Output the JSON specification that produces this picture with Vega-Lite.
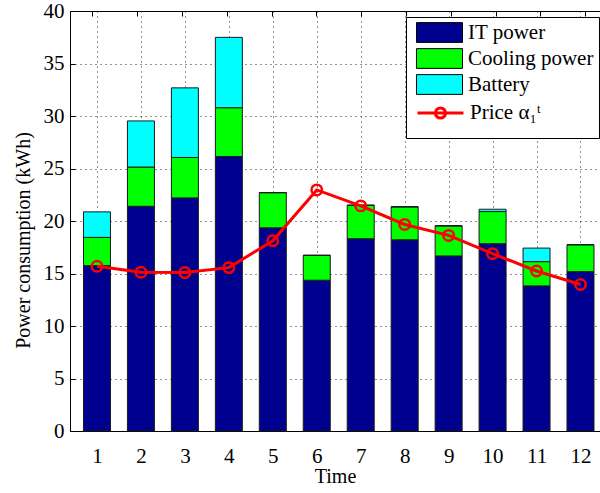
{
  "$schema": "https://vega.github.io/schema/vega-lite/v6.json",
  "width": 530,
  "height": 420,
  "autosize": {"type": "none"},
  "padding": {"left": 70, "top": 11, "right": 0, "bottom": 62},
  "background": "white",
  "config": {
    "view": {"stroke": null},
    "font": "Liberation Serif",
    "axis": {
      "labelFont": "Liberation Serif",
      "titleFont": "Liberation Serif",
      "labelFontSize": 21,
      "titleFontSize": 20,
      "titleFontWeight": "normal",
      "labelColor": "#000000",
      "titleColor": "#000000",
      "domainColor": "#000000",
      "domainWidth": 1,
      "tickColor": "#000000",
      "tickSize": -5,
      "tickWidth": 1,
      "gridColor": "#000000",
      "gridDash": [1, 4],
      "gridWidth": 1,
      "gridOpacity": 0.85
    },
    "legend": {
      "labelFont": "Liberation Serif",
      "labelFontSize": 21,
      "labelColor": "#000000",
      "labelOffset": 5,
      "symbolSize": 2116,
      "clipHeight": 21,
      "symbolOffset": 5,
      "symbolOpacity": 1,
      "rowPadding": 4
    }
  },
  "datasets": {
    "power": [
      {"t": 1, "series": "IT power", "kWh": 15.75},
      {"t": 1, "series": "Cooling power", "kWh": 2.69},
      {"t": 1, "series": "Battery", "kWh": 2.43},
      {"t": 2, "series": "IT power", "kWh": 21.4},
      {"t": 2, "series": "Cooling power", "kWh": 3.74},
      {"t": 2, "series": "Battery", "kWh": 4.39},
      {"t": 3, "series": "IT power", "kWh": 22.2},
      {"t": 3, "series": "Cooling power", "kWh": 3.85},
      {"t": 3, "series": "Battery", "kWh": 6.63},
      {"t": 4, "series": "IT power", "kWh": 26.14},
      {"t": 4, "series": "Cooling power", "kWh": 4.65},
      {"t": 4, "series": "Battery", "kWh": 6.7},
      {"t": 5, "series": "IT power", "kWh": 19.35},
      {"t": 5, "series": "Cooling power", "kWh": 3.35},
      {"t": 5, "series": "Battery", "kWh": 0},
      {"t": 6, "series": "IT power", "kWh": 14.36},
      {"t": 6, "series": "Cooling power", "kWh": 2.37},
      {"t": 6, "series": "Battery", "kWh": 0},
      {"t": 7, "series": "IT power", "kWh": 18.31},
      {"t": 7, "series": "Cooling power", "kWh": 3.19},
      {"t": 7, "series": "Battery", "kWh": 0},
      {"t": 8, "series": "IT power", "kWh": 18.21},
      {"t": 8, "series": "Cooling power", "kWh": 3.14},
      {"t": 8, "series": "Battery", "kWh": 0},
      {"t": 9, "series": "IT power", "kWh": 16.67},
      {"t": 9, "series": "Cooling power", "kWh": 2.87},
      {"t": 9, "series": "Battery", "kWh": 0},
      {"t": 10, "series": "IT power", "kWh": 17.84},
      {"t": 10, "series": "Cooling power", "kWh": 3.06},
      {"t": 10, "series": "Battery", "kWh": 0.22},
      {"t": 11, "series": "IT power", "kWh": 13.82},
      {"t": 11, "series": "Cooling power", "kWh": 2.31},
      {"t": 11, "series": "Battery", "kWh": 1.29},
      {"t": 12, "series": "IT power", "kWh": 15.18},
      {"t": 12, "series": "Cooling power", "kWh": 2.56},
      {"t": 12, "series": "Battery", "kWh": 0}
    ],
    "price": [
      {"t": 1, "price": 15.69},
      {"t": 2, "price": 15.12},
      {"t": 3, "price": 15.09},
      {"t": 4, "price": 15.56},
      {"t": 5, "price": 18.12},
      {"t": 6, "price": 22.96},
      {"t": 7, "price": 21.44},
      {"t": 8, "price": 19.67},
      {"t": 9, "price": 18.63},
      {"t": 10, "price": 16.89},
      {"t": 11, "price": 15.24},
      {"t": 12, "price": 13.95}
    ]
  },
  "resolve": {"scale": {"x": "independent"}},
  "layer": [
    {
      "layer": [
        {
          "data": {"name": "power"},
          "mark": {"type": "bar", "size": 27, "stroke": "#1a1a1a", "strokeWidth": 1},
          "encoding": {
            "x": {
              "field": "t",
              "type": "quantitative",
              "scale": {"domain": [0.5, 12.33], "nice": false, "zero": false},
              "axis": {
                "values": [1, 2, 3, 4, 5, 6, 7, 8, 9, 10, 11, 12],
                "format": "d",
                "title": "Time",
                "labelPadding": 19,
                "titlePadding": 0,
                "grid": true
              }
            },
            "y": {
              "field": "kWh",
              "type": "quantitative",
              "stack": "zero",
              "scale": {"domain": [0, 40], "nice": false},
              "axis": {
                "values": [0, 5, 10, 15, 20, 25, 30, 35, 40],
                "title": "Power consumption (kWh)",
                "titleY": 229,
                "labelPadding": 11,
                "titlePadding": 10,
                "grid": true
              }
            },
            "fill": {
              "field": "series",
              "type": "nominal",
              "sort": ["IT power", "Cooling power", "Battery"],
              "scale": {
                "domain": ["IT power", "Cooling power", "Battery"],
                "range": ["#00008f", "#00ff00", "#00ffff"]
              },
              "legend": {
                "title": " ",
                "titleOrient": "bottom",
                "titleFontSize": 34,
                "titlePadding": 4,
                "orient": "none",
                "legendX": 336,
                "legendY": 6,
                "strokeColor": "#000000",
                "fillColor": "#ffffff",
                "padding": 5,
                "cornerRadius": 0,
                "symbolType": "M-1,-0.43H1V0.43H-1Z",
                "symbolStrokeColor": "#000000",
                "symbolStrokeWidth": 1
              }
            }
          }
        },
        {
          "data": {"name": "price"},
          "mark": {
            "type": "line",
            "strokeWidth": 3,
            "point": {"filled": false, "fill": "transparent", "size": 110, "strokeWidth": 2.5}
          },
          "encoding": {
            "x": {"field": "t", "type": "quantitative"},
            "y": {"field": "price", "type": "quantitative"},
            "stroke": {
              "datum": "Price α₁ᵗ",
              "type": "nominal",
              "scale": {"domain": ["Price α₁ᵗ"], "range": ["#ff0000"]},
              "legend": {
                "title": null,
                "orient": "none",
                "legendX": 341,
                "legendY": 91.5,
                "padding": 0,
                "symbolType": "M-1,0H1M-0.22,0A0.22,0.22 0 1,0 0.22,0A0.22,0.22 0 1,0 -0.22,0",
                "symbolStrokeWidth": 3,
                "symbolFillColor": "transparent"
              }
            }
          }
        }
      ]
    },
    {
      "data": {"name": "price"},
      "mark": {"type": "point", "opacity": 0},
      "encoding": {
        "x": {
          "field": "t",
          "type": "quantitative",
          "scale": {"domain": [0.5, 12.33], "nice": false, "zero": false},
          "axis": {
            "orient": "top",
            "values": [1, 2, 3, 4, 5, 6, 7, 8, 9, 10, 11, 12],
            "labels": false,
            "title": null,
            "grid": false
          }
        },
        "y": {"field": "price", "type": "quantitative"}
      }
    }
  ]
}
